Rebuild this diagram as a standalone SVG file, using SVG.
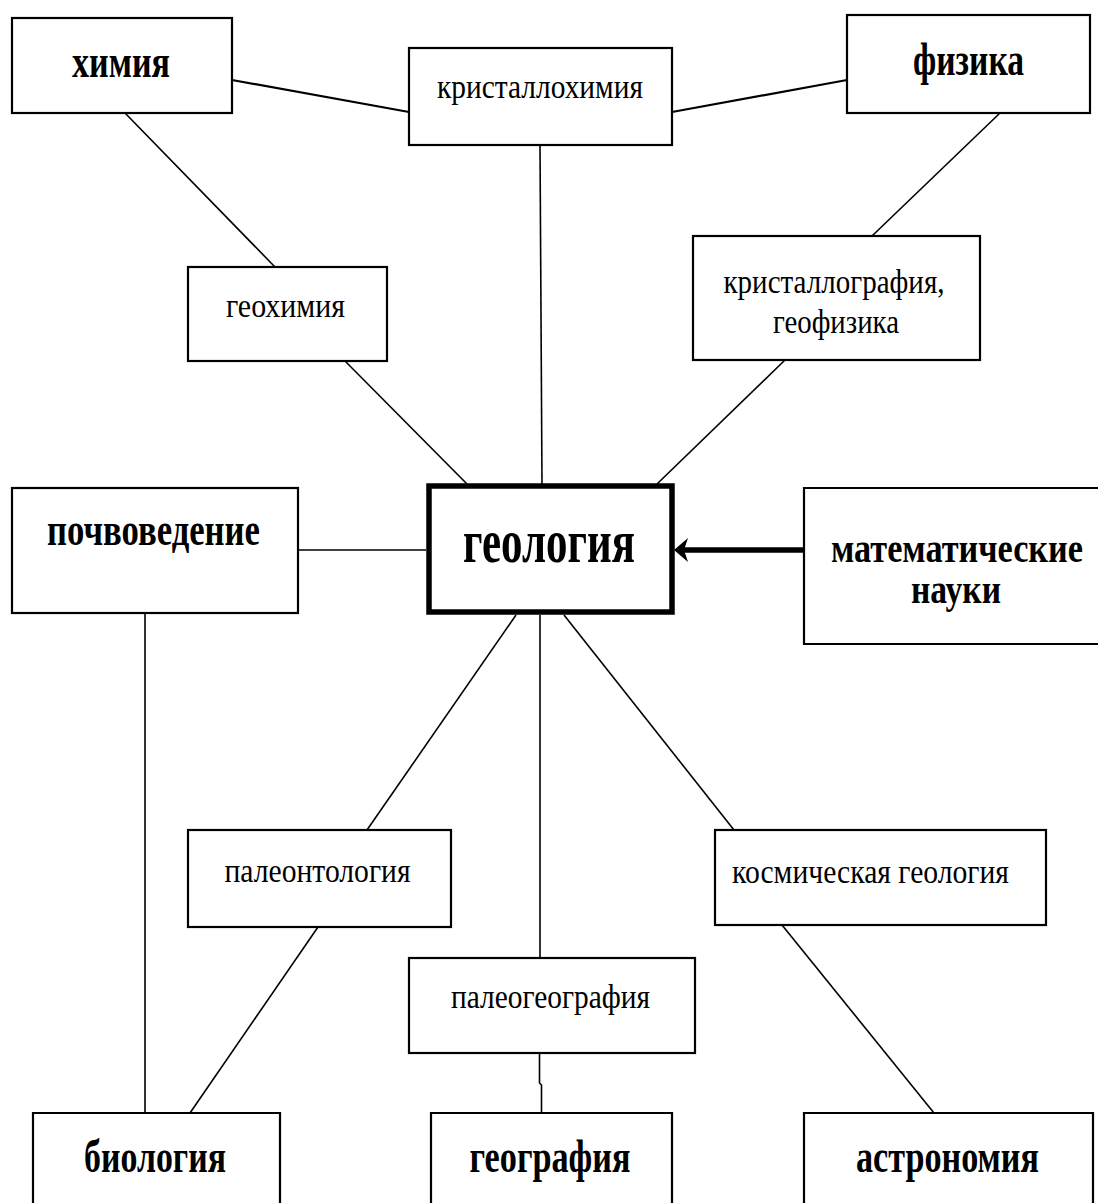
<svg xmlns="http://www.w3.org/2000/svg" width="1098" height="1203" viewBox="0 0 1098 1203">
<style>
.box{fill:#fff;stroke:#000;stroke-width:2.2}
.main{fill:#fff;stroke:#000;stroke-width:5.5}
.b{font-family:"Liberation Serif","DejaVu Serif",serif;font-weight:bold;font-size:46px;fill:#000;text-anchor:middle}
.r{font-family:"Liberation Serif","DejaVu Serif",serif;font-size:34px;fill:#000;text-anchor:middle}
.c{stroke:#000;stroke-width:1.6;fill:none}
</style>
<defs>
<marker id="arr" markerWidth="14" markerHeight="24" refX="6" refY="12" orient="auto" markerUnits="userSpaceOnUse">
<path d="M14,12 L0,0 L4,12 L0,24 Z" fill="#000"/>
</marker>
</defs>
<rect width="1098" height="1203" fill="#fff"/>
<g id="connectors">
<line class="c" x1="232" y1="80" x2="409" y2="112" style="stroke-width:2.2"/>
<line class="c" x1="672" y1="112" x2="847" y2="80" style="stroke-width:2.2"/>
<line class="c" x1="125" y1="113" x2="275" y2="267"/>
<line class="c" x1="540" y1="145" x2="542" y2="484"/>
<line class="c" x1="1000" y1="113" x2="872" y2="236"/>
<line class="c" x1="785" y1="360" x2="657" y2="484"/>
<line class="c" x1="345" y1="361" x2="467" y2="484"/>
<line class="c" x1="298" y1="550" x2="426" y2="550"/>
<line class="c" x1="516" y1="615" x2="367" y2="830"/>
<line class="c" x1="540" y1="615" x2="540" y2="958"/>
<line class="c" x1="564" y1="615" x2="734" y2="830"/>
<line class="c" x1="145" y1="613" x2="145" y2="1113"/>
<line class="c" x1="318" y1="927" x2="190" y2="1113"/>
<polyline class="c" points="539.5,1053 539.5,1083 541.5,1085 541.5,1113"/>
<line class="c" x1="782" y1="925" x2="934" y2="1113"/>
<line x1="804" y1="550" x2="682" y2="550" stroke="#000" stroke-width="5.5" marker-end="url(#arr)"/>
</g>
<g id="n-himiya"><rect class="box" x="12" y="18" width="220" height="95"/><text class="b" x="121" y="77" textLength="98" lengthAdjust="spacingAndGlyphs">химия</text></g>
<g id="n-kristallohimiya"><rect class="box" x="409" y="48" width="263" height="97"/><text class="r" x="540" y="98" textLength="206" lengthAdjust="spacingAndGlyphs">кристаллохимия</text></g>
<g id="n-fizika"><rect class="box" x="847" y="15" width="243" height="98"/><text class="b" x="968.5" y="75" textLength="111" lengthAdjust="spacingAndGlyphs">физика</text></g>
<g id="n-geohimiya"><rect class="box" x="188" y="267" width="199" height="94"/><text class="r" x="285.5" y="317" textLength="119" lengthAdjust="spacingAndGlyphs">геохимия</text></g>
<g id="n-kristallografiya"><rect class="box" x="693" y="236" width="287" height="124"/><text class="r" x="834" y="293" textLength="221" lengthAdjust="spacingAndGlyphs">кристаллография,</text><text class="r" x="836" y="333" textLength="126" lengthAdjust="spacingAndGlyphs">геофизика</text></g>
<g id="n-pochvovedenie"><rect class="box" x="12" y="488" width="286" height="125"/><text class="b" x="153.5" y="545" textLength="213" lengthAdjust="spacingAndGlyphs">почвоведение</text></g>
<g id="n-geologiya"><rect class="main" x="429" y="486" width="243" height="126"/><text class="b" x="549" y="562" style="font-size:62px" textLength="172" lengthAdjust="spacingAndGlyphs">геология</text></g>
<g id="n-matematicheskie"><path class="box" d="M1098,488 H804 V644 H1098"/><text class="b" x="957" y="562" style="font-size:42px" textLength="252" lengthAdjust="spacingAndGlyphs">математические</text><text class="b" x="956" y="603" style="font-size:42px" textLength="90" lengthAdjust="spacingAndGlyphs">науки</text></g>
<g id="n-paleontologiya"><rect class="box" x="188" y="830" width="263" height="97"/><text class="r" x="317.5" y="882" textLength="186" lengthAdjust="spacingAndGlyphs">палеонтология</text></g>
<g id="n-kosmicheskaya"><rect class="box" x="715" y="830" width="331" height="95"/><text class="r" x="870.5" y="883" textLength="277" lengthAdjust="spacingAndGlyphs">космическая геология</text></g>
<g id="n-paleogeografiya"><rect class="box" x="409" y="958" width="286" height="95"/><text class="r" x="550.5" y="1008" textLength="199" lengthAdjust="spacingAndGlyphs">палеогеография</text></g>
<g id="n-biologiya"><path class="box" d="M33,1203 V1113 H280 V1203"/><text class="b" x="155" y="1172" textLength="142" lengthAdjust="spacingAndGlyphs">биология</text></g>
<g id="n-geografiya"><path class="box" d="M431,1203 V1113 H672 V1203"/><text class="b" x="550" y="1172" textLength="161" lengthAdjust="spacingAndGlyphs">география</text></g>
<g id="n-astronomiya"><path class="box" d="M804,1203 V1113 H1093 V1203"/><text class="b" x="947.5" y="1172" textLength="183" lengthAdjust="spacingAndGlyphs">астрономия</text></g>
</svg>
